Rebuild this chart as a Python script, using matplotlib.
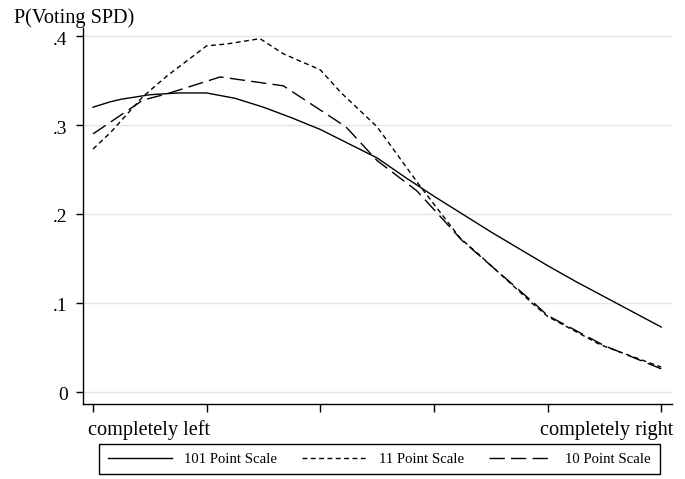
import matplotlib
matplotlib.use('Agg')
import matplotlib.pyplot as plt
from matplotlib.transforms import ScaledTranslation

# --- data (x: 0 = completely left, 100 = completely right)
x_101 = [0, 3, 5, 10, 15, 20, 25, 30, 35, 40, 45, 50, 55, 60, 65, 70, 75, 80, 85, 90, 95, 100]
y_101 = [0.320, 0.326, 0.329, 0.334, 0.336, 0.336, 0.330, 0.320, 0.308, 0.295, 0.279, 0.263,
         0.241, 0.220, 0.200, 0.180, 0.161, 0.142, 0.124, 0.107, 0.090, 0.073]

x_11 = [0, 3, 8.8, 13, 20, 23.5, 29.4, 33.5, 40, 43.7, 50, 57.6, 64.6, 68, 77.6, 80, 89.3, 100]
y_11 = [0.273, 0.291, 0.332, 0.355, 0.389, 0.391, 0.397, 0.380, 0.362, 0.336, 0.298, 0.231,
        0.173, 0.154, 0.098, 0.085, 0.053, 0.028]

x_10 = [0, 8.8, 13, 22.4, 33.5, 44.5, 50, 57, 65, 77.6, 80, 90, 100]
y_10 = [0.290, 0.328, 0.335, 0.354, 0.344, 0.298, 0.260, 0.226, 0.170, 0.100, 0.086, 0.052, 0.026]

series_labels = ['101 Point Scale', '11 Point Scale', '10 Point Scale']
y_ticks = [0, 0.1, 0.2, 0.3, 0.4]
y_ticklabels = ['0', '.1', '.2', '.3', '.4']
x_ticks = [0, 20, 40, 60, 80, 100]

plt.rcParams['font.family'] = ['Liberation Serif', 'DejaVu Serif']

W, H = 685, 479
fig = plt.figure(figsize=(W / 100, H / 100), dpi=100)
ax = fig.add_axes([83 / W, 1 - 404 / H, (672 - 83) / W, (404 - 28) / H])

ax.plot(x_101, y_101, color='black', lw=1.0, ls='-', label=series_labels[0])
ax.plot(x_11, y_11, color='black', lw=1.0, ls=(0, (3.5, 2.5)), label=series_labels[1])
ax.plot(x_10, y_10, color='black', lw=1.0, ls=(0, (11, 4.5)), label=series_labels[2])

ax.set_xlim(-1.76, 101.9)
ax.set_ylim(-0.0135, 0.409)

ax.set_yticks(y_ticks)
ax.set_yticklabels(y_ticklabels, fontsize=14)
ax.set_xticks(x_ticks)
ax.set_xticklabels([''] * len(x_ticks))
ax.tick_params(axis='y', length=5, width=1, pad=6)
ax.tick_params(axis='x', length=5.5, width=1)
# labels sit a touch below their ticks in the reference
shift = ScaledTranslation(0, -2 / 100, fig.dpi_scale_trans)
for lab in ax.get_yticklabels():
    lab.set_transform(lab.get_transform() + shift)

ax.grid(axis='y', color='#e1e5ef', lw=1)
ax.set_axisbelow(True)
for side in ['top', 'right']:
    ax.spines[side].set_visible(False)
for side in ['left', 'bottom']:
    ax.spines[side].set_linewidth(1)

# axis captions as in the reference
fig.text(74 / W, 1 - 23 / H, 'P(Voting SPD)', ha='center', va='baseline', fontsize=14.6)
fig.text(88 / W, 1 - 435 / H, 'completely left', ha='left', va='baseline', fontsize=14.6)
fig.text(673 / W, 1 - 435 / H, 'completely right', ha='right', va='baseline', fontsize=14.6)

leg = fig.legend(loc='center', ncol=3,
                 bbox_to_anchor=((97 + 662) / 2 / W, 1 - 459 / H),
                 fancybox=False, edgecolor='black', framealpha=1, fontsize=10.6,
                 handlelength=4.3, handletextpad=0.88, columnspacing=1.7,
                 borderaxespad=0, borderpad=0.6)
leg.get_frame().set_linewidth(1)

fig.savefig('out.png', dpi=100)
